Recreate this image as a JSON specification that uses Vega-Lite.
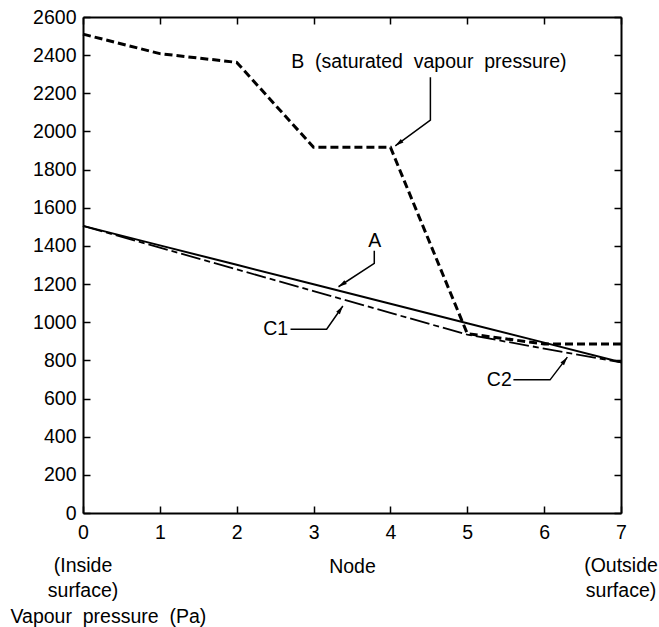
{
  "$schema": "https://vega.github.io/schema/vega-lite/v6.json",
  "width": 538,
  "height": 496,
  "autosize": {"type": "none"},
  "padding": {"left": 83, "top": 17, "right": 38, "bottom": 114},
  "background": "white",
  "config": {
    "view": {"stroke": null},
    "font": "Liberation Sans",
    "axis": {
      "grid": false,
      "domainColor": "black",
      "domainWidth": 2,
      "tickColor": "black",
      "tickWidth": 1.5,
      "tickSize": -7,
      "labelColor": "black",
      "labelFont": "Liberation Sans",
      "labelFontSize": 19.5,
      "titleFont": "Liberation Sans",
      "titleFontSize": 19.5,
      "titleFontWeight": "normal",
      "titleColor": "black",
      "labelOverlap": false,
      "labelFlush": false
    }
  },
  "datasets": {
    "curves": [
      {"series": "A", "node": 0, "p": 1505},
      {"series": "A", "node": 1, "p": 1403},
      {"series": "A", "node": 2, "p": 1301},
      {"series": "A", "node": 3, "p": 1199},
      {"series": "A", "node": 4, "p": 1097},
      {"series": "A", "node": 5, "p": 995},
      {"series": "A", "node": 6, "p": 893},
      {"series": "A", "node": 7, "p": 790},
      {"series": "B", "node": 0, "p": 2510},
      {"series": "B", "node": 1, "p": 2408},
      {"series": "B", "node": 2, "p": 2362},
      {"series": "B", "node": 3, "p": 1917},
      {"series": "B", "node": 4, "p": 1917},
      {"series": "B", "node": 5, "p": 940},
      {"series": "B", "node": 6, "p": 886},
      {"series": "B", "node": 7, "p": 886},
      {"series": "C", "node": 0, "p": 1505},
      {"series": "C", "node": 1, "p": 1391},
      {"series": "C", "node": 2, "p": 1277},
      {"series": "C", "node": 3, "p": 1163},
      {"series": "C", "node": 4, "p": 1049},
      {"series": "C", "node": 5, "p": 935},
      {"series": "C", "node": 6, "p": 862},
      {"series": "C", "node": 7, "p": 790}
    ],
    "leaders": [
      {"id": "B", "ord": 0, "lx": 4.52, "ly": 2284},
      {"id": "B", "ord": 1, "lx": 4.52, "ly": 2059},
      {"id": "B", "ord": 2, "lx": 4.063, "ly": 1925},
      {"id": "A", "ord": 0, "lx": 3.79, "ly": 1375},
      {"id": "A", "ord": 1, "lx": 3.79, "ly": 1309},
      {"id": "A", "ord": 2, "lx": 3.324, "ly": 1186},
      {"id": "C1", "ord": 0, "lx": 2.7, "ly": 963},
      {"id": "C1", "ord": 1, "lx": 3.17, "ly": 963},
      {"id": "C1", "ord": 2, "lx": 3.381, "ly": 1085},
      {"id": "C2", "ord": 0, "lx": 5.6, "ly": 698},
      {"id": "C2", "ord": 1, "lx": 6.077, "ly": 698},
      {"id": "C2", "ord": 2, "lx": 6.302, "ly": 817}
    ],
    "arrows": [
      {"id": "B", "ax": 4.063, "ay": 1925, "ang": 234},
      {"id": "A", "ax": 3.324, "ay": 1186, "ang": 237},
      {"id": "C1", "ax": 3.381, "ay": 1085, "ang": 34.5},
      {"id": "C2", "ax": 6.302, "ay": 817, "ang": 37}
    ],
    "labels": [
      {"t": "B\u00a0 (saturated\u00a0 vapour\u00a0 pressure)", "tx": 2.71, "ty": 2335},
      {"t": "A", "tx": 3.71, "ty": 1394},
      {"t": "C1", "tx": 2.345, "ty": 933},
      {"t": "C2", "tx": 5.254, "ty": 667}
    ],
    "ends": [
      {"node": 0, "t": "(Inside\nsurface)"},
      {"node": 7, "t": "(Outside\nsurface)"}
    ]
  },
  "layer": [
    {
      "data": {"name": "curves"},
      "transform": [{"filter": "datum.series === 'A'"}],
      "mark": {"type": "line", "color": "black", "strokeWidth": 2},
      "encoding": {
        "x": {
          "field": "node", "type": "quantitative",
          "scale": {"domain": [0, 7], "nice": false, "zero": false},
          "axis": {
            "orient": "bottom",
            "values": [0, 1, 2, 3, 4, 5, 6, 7],
            "format": "d",
            "labelBaseline": "alphabetic",
            "labelPadding": 32,
            "title": "Node",
            "titleBaseline": "alphabetic",
            "titleY": 59
          }
        },
        "y": {
          "field": "p", "type": "quantitative",
          "scale": {"domain": [0, 2600], "nice": false},
          "axis": {
            "orient": "left",
            "values": [0, 200, 400, 600, 800, 1000, 1200, 1400, 1600, 1800, 2000, 2200, 2400, 2600],
            "format": "d",
            "labelPadding": 14,
            "title": "Vapour\u00a0 pressure\u00a0 (Pa)",
            "titleAngle": 0,
            "titleAlign": "left",
            "titleBaseline": "alphabetic",
            "titleX": -73,
            "titleY": 605
          }
        }
      }
    },
    {
      "data": {"name": "curves"},
      "transform": [{"filter": "datum.series === 'B'"}],
      "mark": {"type": "line", "color": "black", "strokeWidth": 3, "strokeDash": [8, 4]},
      "encoding": {
        "x": {
          "field": "node", "type": "quantitative",
          "axis": {"orient": "top", "values": [0, 1, 2, 3, 4, 5, 6, 7], "labels": false, "title": null}
        },
        "y": {
          "field": "p", "type": "quantitative",
          "axis": {"orient": "right", "values": [0, 200, 400, 600, 800, 1000, 1200, 1400, 1600, 1800, 2000, 2200, 2400, 2600], "labels": false, "title": null}
        }
      }
    },
    {
      "data": {"name": "curves"},
      "transform": [{"filter": "datum.series === 'C'"}],
      "mark": {"type": "line", "color": "black", "strokeWidth": 1.8, "strokeDash": [20, 4, 6, 4]},
      "encoding": {
        "x": {"field": "node", "type": "quantitative", "axis": null},
        "y": {"field": "p", "type": "quantitative", "axis": null}
      }
    },
    {
      "data": {"name": "leaders"},
      "mark": {"type": "line", "color": "black", "strokeWidth": 1.5},
      "encoding": {
        "x": {"field": "lx", "type": "quantitative", "axis": null},
        "y": {"field": "ly", "type": "quantitative", "axis": null},
        "detail": {"field": "id"},
        "order": {"field": "ord"}
      }
    },
    {
      "data": {"name": "arrows"},
      "mark": {"type": "point", "shape": "M0,0L-0.45,1.7L0.45,1.7Z", "filled": true, "color": "black", "opacity": 1, "size": 100},
      "encoding": {
        "x": {"field": "ax", "type": "quantitative", "axis": null},
        "y": {"field": "ay", "type": "quantitative", "axis": null},
        "angle": {"field": "ang", "type": "quantitative", "scale": null}
      }
    },
    {
      "data": {"name": "labels"},
      "mark": {"type": "text", "align": "left", "baseline": "alphabetic", "fontSize": 19.5, "font": "Liberation Sans", "color": "black"},
      "encoding": {
        "x": {"field": "tx", "type": "quantitative", "axis": null},
        "y": {"field": "ty", "type": "quantitative", "axis": null},
        "text": {"field": "t"}
      }
    },
    {
      "data": {"name": "ends"},
      "mark": {"type": "text", "align": "center", "baseline": "alphabetic", "fontSize": 19.5, "font": "Liberation Sans", "color": "black", "lineBreak": "\n", "lineHeight": 25, "dy": 59},
      "encoding": {
        "x": {"field": "node", "type": "quantitative", "axis": null},
        "y": {"datum": 0, "type": "quantitative", "axis": null},
        "text": {"field": "t"}
      }
    }
  ],
  "resolve": {"axis": {"x": "independent", "y": "independent"}}
}
